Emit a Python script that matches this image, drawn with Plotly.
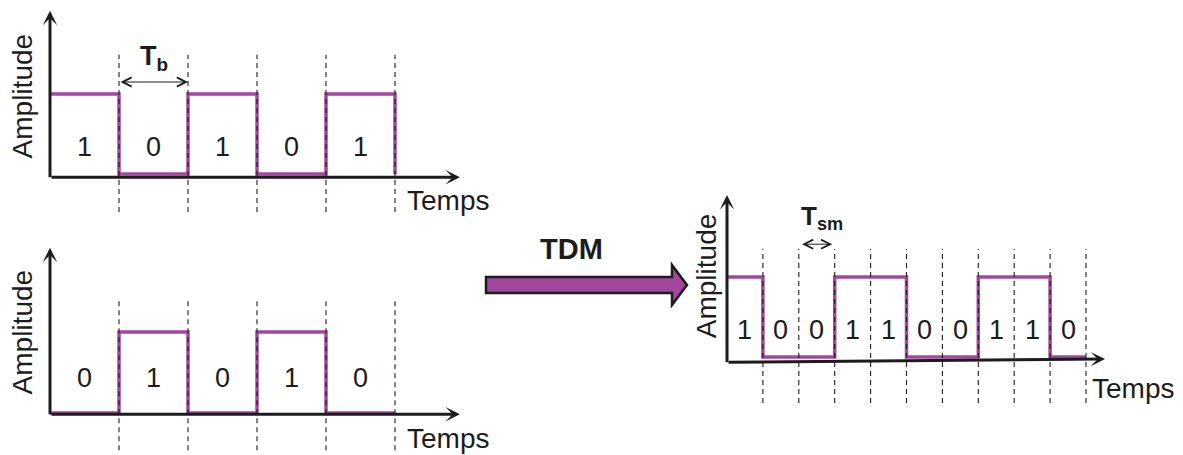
import plotly.graph_objects as go

# ---------------- data ----------------
bits_a = [1, 0, 1, 0, 1]
bits_b = [0, 1, 0, 1, 0]
bits_tdm = [1, 0, 0, 1, 1, 0, 0, 1, 1, 0]
y_label = "Amplitude"
x_label = "Temps"
tdm_label = "TDM"
tb_label = "<b>T<sub>b</sub></b>"
tsm_label = "<b>T<sub>sm</sub></b>"

# ---------------- layout constants ----------------
OFF = 8                     # page body margin of the exported html
W, H = 1183 - OFF, 455 - OFF
PURPLE = "#A3479E"
INK = "#1c1c1c"
FONT = "Liberation Sans, Arial, sans-serif"

# panel geometry (reference px): box, origin (bit start, low level), unit size in px
panels = [
    dict(bits=bits_a, box=(OFF, OFF, 505, 222), origin=(50, 174), unit=(69, 80),
         base=(-0.04, -0.04), xtip=5.94, ytip=2.04, dash=(-0.475, 1.49), lab_y=0.34,
         amp=(-0.40, 0.975), temps=(5.77, -0.33)),
    dict(bits=bits_b, box=(OFF, 225, 505, 455), origin=(50, 413), unit=(69, 81),
         base=(-0.015, -0.015), xtip=5.94, ytip=2.04, dash=(-0.46, 1.43), lab_y=0.43,
         amp=(-0.40, 1.0), temps=(5.77, -0.31)),
    dict(bits=bits_tdm, box=(640, 185, 1183, 415), origin=(727, 357), unit=(35.9, 80),
         base=(-0.065, -0.025), xtip=10.53, ytip=2.025, dash=(-0.575, 1.35), lab_y=0.34,
         amp=(-0.585, 1.01), temps=(11.31, -0.39)),
]

fig = go.Figure()
shapes = []
annotations = []

for i, p in enumerate(panels):
    n = i + 1
    xa = "x" if n == 1 else f"x{n}"
    ya = "y" if n == 1 else f"y{n}"
    x0, y0, x1, y1 = p["box"]
    ox, oy = p["origin"]
    ux, uy = p["unit"]
    xaxis = dict(domain=[(x0 - OFF) / W, (x1 - OFF) / W], range=[(x0 - ox) / ux, (x1 - ox) / ux],
                 visible=False, fixedrange=True, anchor=ya)
    yaxis = dict(domain=[1 - (y1 - OFF) / H, 1 - (y0 - OFF) / H],
                 range=[(oy - y1) / uy, (oy - y0) / uy],
                 visible=False, fixedrange=True, anchor=xa)
    fig.update_layout(**{("xaxis" if n == 1 else f"xaxis{n}"): xaxis,
                         ("yaxis" if n == 1 else f"yaxis{n}"): yaxis})

    bits = p["bits"]
    nb = len(bits)
    # dashed bit boundaries
    for k in range(1, nb + 1):
        shapes.append(dict(type="line", xref=xa, yref=ya, x0=k, x1=k,
                           y0=p["dash"][0], y1=p["dash"][1],
                           line=dict(color=INK, width=1.1, dash="5px,4px")))
    # axes (arrows)
    annotations.append(dict(xref=xa, yref=ya, axref=xa, ayref=ya,
                            x=p["xtip"], y=p["base"][1], ax=0, ay=p["base"][0],
                            text="", showarrow=True, arrowhead=3, arrowsize=0.8,
                            arrowwidth=3, arrowcolor=INK))
    annotations.append(dict(xref=xa, yref=ya, axref=xa, ayref=ya,
                            x=0, y=p["ytip"], ax=0, ay=p["base"][0] - 0.02,
                            text="", showarrow=True, arrowhead=3, arrowsize=0.8,
                            arrowwidth=3, arrowcolor=INK))
    # signal
    fig.add_trace(go.Scatter(x=list(range(nb + 1)), y=bits + [0], mode="lines",
                             line=dict(color=PURPLE, width=3.5, shape="hv"),
                             xaxis=xa, yaxis=ya, hoverinfo="skip", showlegend=False))
    # bit labels
    for k, b in enumerate(bits):
        annotations.append(dict(xref=xa, yref=ya, x=k + 0.5, y=p["lab_y"], text=str(b),
                                showarrow=False, font=dict(family=FONT, size=27, color=INK)))
    # axis titles
    annotations.append(dict(xref=xa, yref=ya, x=p["amp"][0], y=p["amp"][1], text=y_label,
                            textangle=-90, showarrow=False,
                            font=dict(family=FONT, size=28, color=INK)))
    annotations.append(dict(xref=xa, yref=ya, x=p["temps"][0], y=p["temps"][1], text=x_label,
                            showarrow=False, font=dict(family=FONT, size=28, color=INK)))

# period markers
annotations.append(dict(xref="x", yref="y", axref="x", ayref="y", x=2, y=1.15, ax=1, ay=1.15,
                        text="", showarrow=True, arrowside="end+start", arrowhead=5,
                        startarrowhead=5, arrowsize=1.8, startarrowsize=1.8,
                        arrowwidth=1, arrowcolor=INK))
annotations.append(dict(xref="x", yref="y", x=1.5, y=1.45, text=tb_label, showarrow=False,
                        font=dict(family=FONT, size=27, color=INK)))
annotations.append(dict(xref="x3", yref="y3", axref="x3", ayref="y3", x=2.93, y=1.41, ax=2.05,
                        ay=1.41, text="", showarrow=True, arrowside="end+start", arrowhead=5,
                        startarrowhead=5, arrowsize=1.8, startarrowsize=1.8,
                        arrowwidth=1, arrowcolor=INK))
annotations.append(dict(xref="x3", yref="y3", x=2.65, y=1.75, text=tsm_label, showarrow=False,
                        font=dict(family=FONT, size=26, color=INK)))


# big TDM arrow (decoration, reference px -> paper)
def P(px, py):
    return f"{(px - OFF) / W:.5f},{1 - (py - OFF) / H:.5f}"


arrow_pts = [(486, 277), (672, 277), (672, 265), (687, 285), (672, 305), (672, 293), (486, 293)]
path = "M" + " L".join(P(a, b) for a, b in arrow_pts) + " Z"
shapes.append(dict(type="path", xref="paper", yref="paper", path=path,
                   fillcolor=PURPLE, line=dict(color=INK, width=2.5)))
annotations.append(dict(xref="paper", yref="paper", x=(571 - OFF) / W, y=1 - (249 - OFF) / H,
                        text="<b>" + tdm_label + "</b>",
                        showarrow=False, font=dict(family=FONT, size=29, color=INK)))

fig.update_layout(width=W, height=H, autosize=False, margin=dict(l=0, r=0, t=0, b=0),
                  paper_bgcolor="white", plot_bgcolor="white", showlegend=False,
                  shapes=shapes, annotations=annotations)

fig.write_html("out.html", config={"displayModeBar": False})
